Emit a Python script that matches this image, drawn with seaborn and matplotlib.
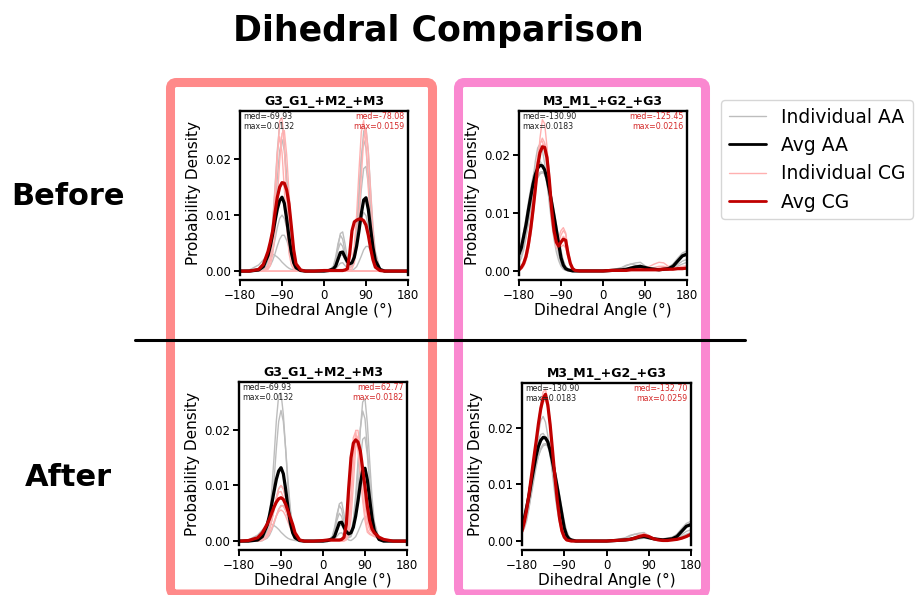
import matplotlib
matplotlib.use("Agg")
import matplotlib.pyplot as plt
import seaborn as sns
from matplotlib.patches import FancyBboxPatch
from matplotlib.lines import Line2D
from matplotlib.ticker import FormatStrFormatter

# ---------------- data ----------------
G3_ANGLE = [-180, -160, -140, -130, -120, -115, -110, -105, -100, -95,
            -90, -85, -80, -75, -70, -65, -60, -50, -40, -20,
            0, 10, 20, 25, 30, 35, 40, 45, 50, 55,
            60, 65, 70, 75, 80, 85, 90, 95, 100, 105,
            110, 120, 130, 150, 180]

G3_AA_AVG = [0, 0, .0002, .0008, .0028, .0045, .0066, .0089, .0111, .0126,
             .0132, .0121, .0093, .0060, .0033, .0015, .0006, .0001, 0, 0,
             0, .0001, .0004, .0009, .0021, .0033, .0034, .0025, .0017, .0013,
             .0015, .0025, .0045, .0072, .0103, .0127, .0131, .0110, .0075, .0042,
             .0019, .0003, 0, 0, 0]

G3_AA_IND_1 = [0, 0, 0, .0002, .0018, .0043, .0088, .0150, .0216, .0262,
               .0266, .0228, .0164, .0099, .0050, .0021, .0008, .0001, 0, 0,
               0, 0, .0001, .0004, .0009, .0014, .0015, .0010, .0005, .0002,
               .0001, .0004, .0008, .0017, .0027, .0038, .0044, .0044, .0036, .0025,
               .0015, .0003, 0, 0, 0]
G3_AA_IND_2 = [0, 0, 0, .0001, .0010, .0027, .0059, .0108, .0166, .0215,
               .0235, .0215, .0166, .0108, .0059, .0027, .0010, .0001, 0, 0,
               0, 0, .0002, .0008, .0018, .0028, .0029, .0020, .0011, .0007,
               .0011, .0023, .0043, .0069, .0093, .0105, .0099, .0079, .0053, .0030,
               .0014, .0002, 0, 0, 0]
G3_AA_IND_3 = [0, 0, 0, .0002, .0010, .0020, .0036, .0056, .0078, .0094,
               .0100, .0094, .0078, .0056, .0036, .0020, .0010, .0002, 0, 0,
               0, 0, .0009, .0025, .0049, .0064, .0057, .0035, .0014, .0006,
               .0008, .0021, .0050, .0095, .0146, .0183, .0187, .0155, .0105, .0058,
               .0026, .0003, 0, 0, 0]
G3_AA_IND_4 = [0, 0, 0, .0001, .0005, .0010, .0019, .0031, .0045, .0057,
               .0064, .0064, .0055, .0042, .0028, .0017, .0009, .0002, 0, 0,
               0, 0, .0006, .0019, .0044, .0067, .0070, .0049, .0023, .0011,
               .0016, .0038, .0082, .0143, .0203, .0234, .0220, .0168, .0105, .0053,
               .0022, .0002, 0, 0, 0]
G3_AA_IND_5 = [0, .0002, .0011, .0020, .0028, .0030, .0030, .0028, .0025, .0021,
               .0016, .0012, .0008, .0005, .0003, .0002, .0001, 0, 0, 0,
               0, 0, .0007, .0019, .0038, .0050, .0044, .0027, .0011, .0006,
               .0011, .0029, .0068, .0130, .0200, .0250, .0256, .0212, .0144, .0079,
               .0035, .0004, 0, 0, 0]

G3_CG_BEFORE_AVG = [0, 0, .0003, .0012, .0035, .0052, .0072, .0104, .0132, .0150,
                    .0158, .0157, .0145, .0120, .0080, .0038, .0013, .0002, 0, 0,
                    .0001, .0001, .0001, .0001, .0001, .0001, .0001, .0002, .0004, .0030,
                    .0072, .0088, .0091, .0093, .0093, .0090, .0082, .0064, .0040, .0020,
                    .0007, .0001, 0, 0, 0]
G3_CG_BEFORE_IND_1 = [0, 0, 0, 0, .0006, .0020, .0055, .0120, .0203, .0268,
                      .0274, .0219, .0136, .0066, .0025, .0007, .0002, 0, 0, 0,
                      0, 0, 0, 0, 0, 0, 0, 0, 0, 0,
                      0, 0, 0, 0, 0, 0, 0, 0, 0, 0,
                      0, 0, 0, 0, 0]
G3_CG_BEFORE_IND_2 = [0, 0, 0, 0, .0003, .0010, .0029, .0067, .0128, .0196,
                      .0246, .0251, .0208, .0141, .0077, .0034, .0012, .0001, 0, 0,
                      0, 0, 0, 0, 0, 0, 0, 0, 0, 0,
                      0, 0, 0, 0, 0, 0, 0, 0, 0, 0,
                      0, 0, 0, 0, 0]
G3_CG_BEFORE_IND_3 = [0, 0, 0, 0, .0011, .0032, .0078, .0146, .0212, .0240,
                      .0212, .0146, .0078, .0032, .0011, .0003, 0, 0, 0, 0,
                      0, 0, 0, 0, 0, 0, 0, 0, 0, 0,
                      0, 0, 0, 0, 0, 0, 0, 0, 0, 0,
                      0, 0, 0, 0, 0]
G3_CG_BEFORE_IND_4 = [0, 0, 0, 0, 0, 0, 0, 0, 0, 0,
                      0, 0, 0, 0, 0, 0, 0, 0, 0, 0,
                      0, 0, 0, 0, 0, 0, 0, 0, 0, .0004,
                      .0016, .0044, .0101, .0180, .0249, .0269, .0225, .0147, .0075, .0030,
                      .0009, 0, 0, 0, 0]
G3_CG_BEFORE_IND_5 = [0, 0, 0, 0, 0, 0, 0, 0, 0, 0,
                      0, 0, 0, 0, 0, 0, 0, 0, 0, 0,
                      0, 0, 0, 0, 0, 0, 0, 0, 0, .0001,
                      .0004, .0014, .0042, .0096, .0170, .0235, .0254, .0213, .0139, .0071,
                      .0028, .0002, 0, 0, 0]

G3_CG_AFTER_AVG = [0, .0001, .0006, .0015, .0030, .0039, .0050, .0061, .0070, .0076,
                   .0078, .0075, .0066, .0054, .0042, .0030, .0015, .0002, 0, 0,
                   .0001, .0002, .0002, .0002, .0002, .0002, .0003, .0007, .0030, .0095,
                   .0150, .0176, .0182, .0178, .0162, .0130, .0098, .0062, .0037, .0022,
                   .0015, .0007, .0003, 0, 0]
G3_CG_AFTER_IND_1 = [0, 0, 0, .0002, .0010, .0020, .0036, .0056, .0078, .0094,
                     .0100, .0094, .0078, .0056, .0036, .0020, .0010, .0002, 0, 0,
                     0, 0, 0, 0, 0, 0, 0, .0001, .0008, .0031,
                     .0083, .0148, .0180, .0165, .0127, .0082, .0045, .0021, .0014, .0011,
                     .0009, .0005, .0002, 0, 0]
G3_CG_AFTER_IND_2 = [0, 0, 0, .0002, .0012, .0023, .0039, .0059, .0076, .0088,
                     .0089, .0079, .0062, .0043, .0026, .0014, .0007, .0001, 0, 0,
                     0, 0, 0, 0, 0, 0, 0, .0003, .0016, .0053,
                     .0121, .0186, .0197, .0169, .0121, .0073, .0037, .0016, .0012, .0010,
                     .0008, .0004, .0001, 0, 0]
G3_CG_AFTER_IND_3 = [0, 0, 0, .0001, .0007, .0013, .0022, .0034, .0046, .0057,
                     .0063, .0063, .0055, .0044, .0031, .0020, .0011, .0003, 0, 0,
                     0, 0, 0, 0, 0, 0, 0, .0001, .0005, .0022,
                     .0067, .0140, .0199, .0199, .0164, .0114, .0067, .0033, .0020, .0015,
                     .0010, .0005, .0002, 0, 0]
G3_CG_AFTER_IND_4 = [0, 0, 0, .0002, .0008, .0014, .0023, .0034, .0045, .0053,
                     .0056, .0053, .0045, .0034, .0023, .0014, .0008, .0002, 0, 0,
                     0, 0, 0, 0, 0, 0, 0, 0, .0002, .0011,
                     .0041, .0101, .0168, .0189, .0168, .0125, .0078, .0041, .0024, .0017,
                     .0011, .0006, .0002, 0, 0]

M3_ANGLE = [-180, -175, -170, -165, -160, -155, -150, -145, -140, -135,
            -130, -125, -120, -115, -110, -105, -100, -95, -90, -85,
            -80, -75, -70, -65, -60, -50, -30, 0, 20, 40,
            50, 60, 70, 80, 90, 100, 110, 120, 130, 140,
            150, 160, 170, 180]

M3_AA_AVG = [.0029, .0040, .0060, .0080, .0105, .0128, .0150, .0167, .0178, .0183,
             .0182, .0175, .0160, .0140, .0118, .0095, .0071, .0047, .0023, .0010,
             .0004, .0002, .0001, 0, 0, 0, 0, 0, .0001, .0002,
             .0003, .0005, .0007, .0008, .0006, .0004, .0003, .0002, .0003, .0004,
             .0008, .0017, .0026, .0029]
M3_AA_IND_1 = [.0035, .0048, .0068, .0092, .0118, .0142, .0163, .0178, .0188, .0190,
               .0184, .0170, .0150, .0126, .0100, .0075, .0050, .0028, .0012, .0005,
               .0002, .0001, 0, 0, 0, 0, 0, 0, .0001, .0005,
               .0009, .0012, .0014, .0015, .0009, .0005, .0003, .0002, .0003, .0006,
               .0012, .0022, .0031, .0035]
M3_AA_IND_2 = [.0020, .0028, .0042, .0060, .0082, .0106, .0130, .0150, .0164, .0171,
               .0172, .0167, .0155, .0137, .0115, .0092, .0069, .0046, .0025, .0011,
               .0004, .0002, .0001, 0, 0, 0, 0, 0, 0, .0001,
               .0001, .0002, .0004, .0005, .0004, .0003, .0002, .0002, .0002, .0003,
               .0006, .0011, .0017, .0020]
M3_AA_IND_3 = [.0015, .0022, .0036, .0058, .0088, .0122, .0158, .0190, .0213, .0220,
               .0210, .0186, .0153, .0117, .0083, .0055, .0033, .0018, .0008, .0003,
               .0001, 0, 0, 0, 0, 0, 0, 0, 0, .0002,
               .0004, .0007, .0009, .0010, .0007, .0004, .0002, .0001, .0001, .0002,
               .0004, .0008, .0012, .0015]
M3_AA_IND_4 = [.0032, .0043, .0058, .0076, .0096, .0116, .0135, .0150, .0161, .0168,
               .0170, .0168, .0160, .0146, .0128, .0106, .0082, .0058, .0035, .0018,
               .0008, .0003, .0001, 0, 0, 0, 0, 0, .0002, .0006,
               .0010, .0012, .0010, .0008, .0006, .0005, .0004, .0004, .0005, .0007,
               .0011, .0019, .0028, .0032]

M3_CG_BEFORE_AVG = [.0002, .0006, .0013, .0025, .0045, .0072, .0105, .0142, .0182, .0205,
                    .0215, .0214, .0196, .0157, .0106, .0070, .0050, .0043, .0050, .0055,
                    .0053, .0030, .0013, .0004, .0001, 0, 0, 0, .0001, .0001,
                    .0001, .0002, .0002, .0002, .0002, .0002, .0002, .0002, .0003, .0003,
                    .0003, .0004, .0004, .0005]
M3_CG_BEFORE_IND_1 = [0, .0003, .0008, .0018, .0035, .0062, .0098, .0140, .0185, .0230,
                      .0262, .0255, .0215, .0160, .0105, .0068, .0055, .0058, .0070, .0075,
                      .0066, .0038, .0016, .0005, .0001, 0, 0, 0, 0, .0001,
                      .0001, .0002, .0003, .0003, .0002, .0002, .0003, .0005, .0006, .0004,
                      .0004, .0005, .0006, .0006]
M3_CG_BEFORE_IND_2 = [.0003, .0007, .0015, .0028, .0048, .0076, .0110, .0150, .0190, .0220,
                      .0230, .0222, .0195, .0152, .0105, .0070, .0052, .0050, .0062, .0070,
                      .0064, .0036, .0015, .0004, .0001, 0, 0, 0, 0, 0,
                      .0001, .0001, .0002, .0002, .0003, .0004, .0004, .0003, .0003, .0003,
                      .0004, .0005, .0005, .0005]
M3_CG_BEFORE_IND_3 = [.0002, .0005, .0011, .0021, .0038, .0062, .0094, .0132, .0170, .0202,
                      .0218, .0220, .0205, .0170, .0122, .0080, .0055, .0048, .0053, .0060,
                      .0056, .0033, .0013, .0004, .0001, 0, 0, 0, 0, .0001,
                      .0002, .0003, .0004, .0004, .0003, .0004, .0006, .0008, .0008, .0006,
                      .0005, .0004, .0004, .0004]
M3_CG_BEFORE_IND_4 = [.0003, .0008, .0017, .0032, .0055, .0086, .0125, .0165, .0200, .0222,
                      .0225, .0208, .0178, .0135, .0090, .0058, .0040, .0036, .0042, .0045,
                      .0040, .0024, .0010, .0003, .0001, 0, 0, 0, .0001, .0002,
                      .0003, .0004, .0005, .0006, .0005, .0008, .0012, .0015, .0014, .0008,
                      .0005, .0006, .0008, .0009]

M3_CG_AFTER_AVG = [.0018, .0034, .0056, .0083, .0114, .0145, .0175, .0207, .0234, .0252,
                   .0259, .0240, .0205, .0160, .0114, .0073, .0040, .0018, .0007, .0002,
                   .0001, 0, 0, 0, 0, 0, 0, 0, .0001, .0002,
                   .0003, .0005, .0008, .0010, .0008, .0004, .0002, .0001, .0001, .0002,
                   .0003, .0005, .0008, .0012]
M3_CG_AFTER_IND_1 = [.0015, .0030, .0052, .0080, .0110, .0142, .0175, .0210, .0242, .0263,
                     .0268, .0248, .0210, .0162, .0112, .0068, .0035, .0014, .0005, .0001,
                     0, 0, 0, 0, 0, 0, 0, 0, .0001, .0002,
                     .0004, .0007, .0011, .0013, .0010, .0005, .0002, .0001, .0001, .0002,
                     .0003, .0005, .0008, .0012]
M3_CG_AFTER_IND_2 = [.0020, .0037, .0060, .0087, .0117, .0147, .0176, .0205, .0228, .0245,
                     .0250, .0235, .0203, .0160, .0116, .0077, .0044, .0021, .0008, .0003,
                     .0001, 0, 0, 0, 0, 0, 0, 0, 0, .0001,
                     .0002, .0004, .0007, .0009, .0008, .0004, .0002, .0001, .0001, .0002,
                     .0003, .0006, .0009, .0014]
M3_CG_AFTER_IND_3 = [.0012, .0026, .0048, .0076, .0108, .0142, .0176, .0210, .0238, .0253,
                     .0255, .0236, .0198, .0150, .0102, .0062, .0032, .0014, .0005, .0001,
                     0, 0, 0, 0, 0, 0, 0, 0, 0, .0002,
                     .0003, .0005, .0008, .0010, .0008, .0004, .0002, .0001, .0001, .0001,
                     .0002, .0004, .0007, .0010]

TITLES = ["G3_G1_+M2_+M3", "M3_M1_+G2_+G3"]
AA_STATS = ["med=-69.93\nmax=0.0132", "med=-130.90\nmax=0.0183"]
CG_STATS = [["med=-78.08\nmax=0.0159", "med=-125.45\nmax=0.0216"],
            ["med=62.77\nmax=0.0182", "med=-132.70\nmax=0.0259"]]
ROW_LABELS = ["Before", "After"]
X_TICKS = [-180, -90, 0, 90, 180]
Y_TICKS = [0.0, 0.01, 0.02]
LEGEND_LABELS = ["Individual AA", "Avg AA", "Individual CG", "Avg CG"]

# ---------------- style ----------------
sns.set_theme(style="ticks")
plt.rcParams["font.family"] = ["DejaVu Sans"]
plt.rcParams.update({"text.color": "black", "axes.labelcolor": "black",
                     "xtick.color": "black", "ytick.color": "black",
                     "axes.edgecolor": "black"})

C_AA_IND = "#bdbdbd"
C_AA_AVG = "#000000"
C_CG_IND = "#ffb0b0"
C_CG_AVG = "#c00000"
C_TXT_CG = "#d42a2a"

W, H = 916, 595
fig = plt.figure(figsize=(W / 100, H / 100), dpi=100)


def rect(l, t, r, b):
    return [l / W, 1 - b / H, (r - l) / W, (b - t) / H]


panels = [
    dict(rect=rect(240, 111, 408, 275), title=TITLES[0], x=G3_ANGLE,
         aa_avg=G3_AA_AVG,
         aa_ind=[G3_AA_IND_1, G3_AA_IND_2, G3_AA_IND_3, G3_AA_IND_4, G3_AA_IND_5],
         cg_avg=G3_CG_BEFORE_AVG,
         cg_ind=[G3_CG_BEFORE_IND_1, G3_CG_BEFORE_IND_2, G3_CG_BEFORE_IND_3,
                 G3_CG_BEFORE_IND_4, G3_CG_BEFORE_IND_5],
         aa_txt=AA_STATS[0], cg_txt=CG_STATS[0][0], ytop=0.0286),
    dict(rect=rect(519, 111, 687, 275), title=TITLES[1], x=M3_ANGLE,
         aa_avg=M3_AA_AVG,
         aa_ind=[M3_AA_IND_1, M3_AA_IND_2, M3_AA_IND_3, M3_AA_IND_4],
         cg_avg=M3_CG_BEFORE_AVG,
         cg_ind=[M3_CG_BEFORE_IND_1, M3_CG_BEFORE_IND_2, M3_CG_BEFORE_IND_3,
                 M3_CG_BEFORE_IND_4],
         aa_txt=AA_STATS[1], cg_txt=CG_STATS[0][1], ytop=0.0277),
    dict(rect=rect(239, 382, 407, 545), title=TITLES[0], x=G3_ANGLE,
         aa_avg=G3_AA_AVG,
         aa_ind=[G3_AA_IND_1, G3_AA_IND_2, G3_AA_IND_3, G3_AA_IND_4, G3_AA_IND_5],
         cg_avg=G3_CG_AFTER_AVG,
         cg_ind=[G3_CG_AFTER_IND_1, G3_CG_AFTER_IND_2, G3_CG_AFTER_IND_3,
                 G3_CG_AFTER_IND_4],
         aa_txt=AA_STATS[0], cg_txt=CG_STATS[1][0], ytop=0.0286),
    dict(rect=rect(522, 383, 691, 545), title=TITLES[1], x=M3_ANGLE,
         aa_avg=M3_AA_AVG,
         aa_ind=[M3_AA_IND_1, M3_AA_IND_2, M3_AA_IND_3, M3_AA_IND_4],
         cg_avg=M3_CG_AFTER_AVG,
         cg_ind=[M3_CG_AFTER_IND_1, M3_CG_AFTER_IND_2, M3_CG_AFTER_IND_3],
         aa_txt=AA_STATS[1], cg_txt=CG_STATS[1][1], ytop=0.0279),
]

for p in panels:
    ax = fig.add_axes(p["rect"])
    for y in p["aa_ind"]:
        sns.lineplot(x=p["x"], y=y, ax=ax, color=C_AA_IND, lw=1.0, legend=False)
    for y in p["cg_ind"]:
        sns.lineplot(x=p["x"], y=y, ax=ax, color=C_CG_IND, lw=1.0, legend=False)
    sns.lineplot(x=p["x"], y=p["aa_avg"], ax=ax, color=C_AA_AVG, lw=2.3, legend=False)
    sns.lineplot(x=p["x"], y=p["cg_avg"], ax=ax, color=C_CG_AVG, lw=2.3, legend=False)

    ax.set_xlim(-180, 180)
    ax.set_ylim(-0.0007, p["ytop"])
    ax.set_xticks(X_TICKS)
    ax.set_yticks(Y_TICKS)
    ax.yaxis.set_major_formatter(FormatStrFormatter("%.2f"))
    for s in ax.spines.values():
        s.set_linewidth(1.7)
        s.set_color("black")
    ax.spines["bottom"].set_position(("outward", 3.5))
    ax.tick_params(labelsize=8.5, width=1.4, length=4, pad=2.5, colors="black")
    ax.set_xlabel("Dihedral Angle (°)", fontsize=11, labelpad=1)
    ax.set_ylabel("Probability Density", fontsize=11, labelpad=3)
    ax.set_title(p["title"], fontsize=9, fontweight="bold", pad=4, color="black")
    ax.text(0.02, 0.995, p["aa_txt"], transform=ax.transAxes, fontsize=5.7,
            ha="left", va="top", color="#222222", linespacing=1.1)
    ax.text(0.98, 0.995, p["cg_txt"], transform=ax.transAxes, fontsize=5.7,
            ha="right", va="top", color=C_TXT_CG, linespacing=1.1)

# column frames (pixel geometry converted to inches)
for (l, r, col) in [(170.5, 432.5, "#ff8a8a"), (458.5, 705.5, "#fa88d0")]:
    top, bot = 82.5, 594
    fb = FancyBboxPatch((l / 100, (H - bot) / 100), (r - l) / 100, (bot - top) / 100,
                        boxstyle="round,pad=0,rounding_size=0.06",
                        transform=fig.dpi_scale_trans, fill=False,
                        edgecolor=col, linewidth=6.5, zorder=-1)
    fig.add_artist(fb)

# divider
fig.add_artist(Line2D([135 / W, 745 / W], [1 - 340 / H, 1 - 340 / H],
                      transform=fig.transFigure, color="black", lw=2.2))

fig.text(438 / W, 1 - 31 / H, "Dihedral Comparison", fontsize=25,
         fontweight="bold", ha="center", va="center", color="black")
fig.text(68 / W, 1 - 197 / H, ROW_LABELS[0], fontsize=22, fontweight="bold",
         ha="center", va="center", color="black")
fig.text(68 / W, 1 - 477 / H, ROW_LABELS[1], fontsize=22, fontweight="bold",
         ha="center", va="center", color="black")

handles = [Line2D([], [], color=C_AA_IND, lw=1.0),
           Line2D([], [], color=C_AA_AVG, lw=2.0),
           Line2D([], [], color=C_CG_IND, lw=1.0),
           Line2D([], [], color=C_CG_AVG, lw=2.0)]
leg = fig.legend(handles, LEGEND_LABELS, loc="upper left",
                 bbox_to_anchor=(721 / W, 1 - 100 / H), borderaxespad=0,
                 fontsize=13.5, frameon=True, fancybox=True, edgecolor="#cccccc")
for t in leg.get_texts():
    t.set_color("black")

fig.savefig("out.png", dpi=100)
